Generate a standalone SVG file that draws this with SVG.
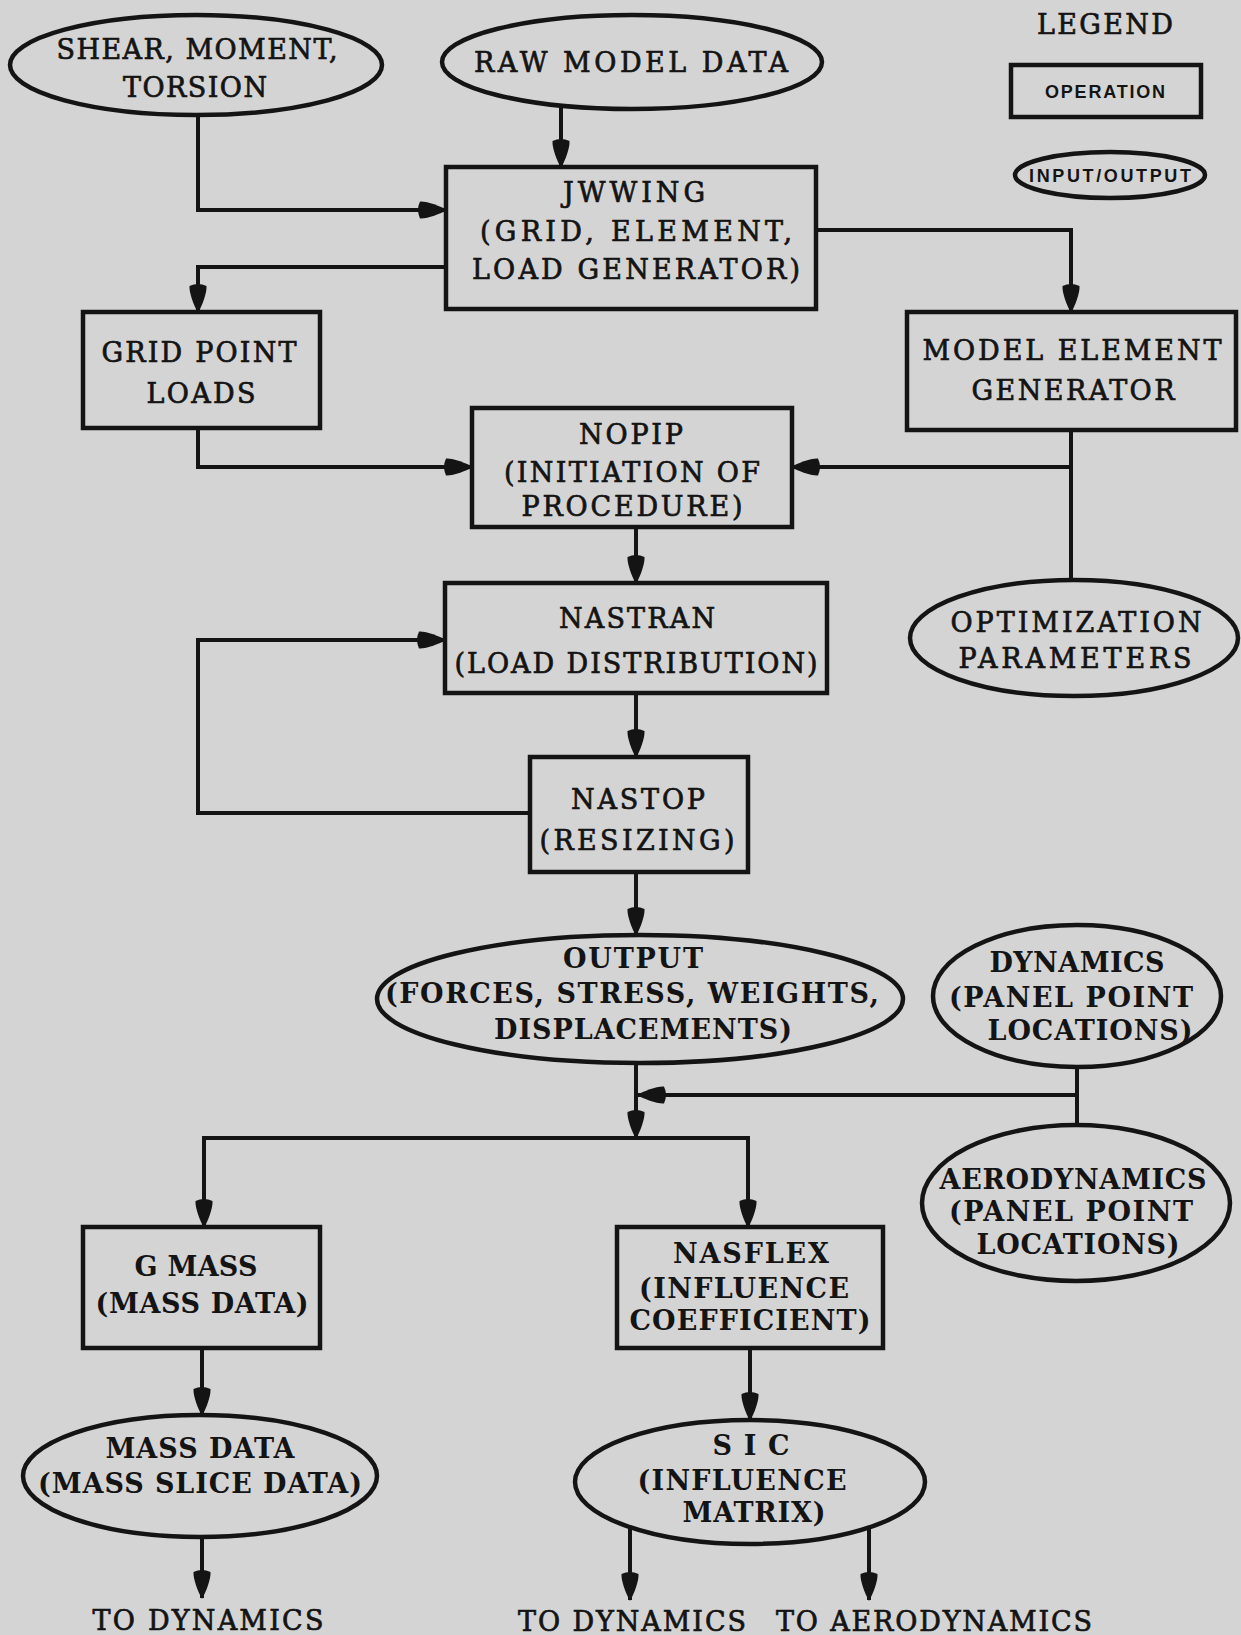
<svg xmlns="http://www.w3.org/2000/svg" width="1241" height="1635" viewBox="0 0 1241 1635">
<defs>
<style>
.bg{fill:#d4d4d4}
.box{fill:none;stroke:#141414;stroke-width:4.5}
.ell{fill:none;stroke:#141414;stroke-width:4.5}
.ln{fill:none;stroke:#141414;stroke-width:4}
.arr{marker-end:url(#ah)}
text{fill:#141414;text-anchor:middle}
.t{font-family:"DejaVu Serif","Liberation Serif",serif;font-size:27px;stroke:#141414;stroke-width:0.7}
.b{font-family:"DejaVu Serif","Liberation Serif",serif;font-size:27px;font-weight:bold}
.s{font-family:"Liberation Sans",Arial,sans-serif;font-size:18px;font-weight:bold}
</style>
<marker id="ah" markerUnits="userSpaceOnUse" markerWidth="34" markerHeight="22" viewBox="-31 -11 34 22" refX="0" refY="0" orient="auto" overflow="visible">
<path d="M1,0 C-6,-4 -19,-9 -26,-8.5 Q-30,0 -26,8.5 C-19,9 -6,4 1,0 Z" fill="#141414"/>
</marker>
</defs>
<rect class="bg" x="0" y="0" width="1241" height="1635"/>

<g id="legend">
<text class="t" x="1105" y="34" textLength="136" lengthAdjust="spacing">LEGEND</text>
<rect class="box" x="1011" y="65" width="190" height="52"/>
<text class="s" x="1105" y="98" textLength="120" lengthAdjust="spacing">OPERATION</text>
<ellipse class="ell" cx="1110" cy="175" rx="95" ry="23"/>
<text class="s" x="1110" y="182" textLength="162" lengthAdjust="spacing">INPUT/OUTPUT</text>
</g>

<g id="connectors">
<path class="ln arr" d="M198,115 V210 H446"/>
<path class="ln arr" d="M561,106 V167"/>
<path class="ln arr" d="M446,267 H198 V312"/>
<path class="ln arr" d="M816,230 H1071 V312"/>
<path class="ln arr" d="M198,428 V467 H472"/>
<path class="ln" d="M1071,430 V580"/>
<path class="ln arr" d="M1071,467 H792"/>
<path class="ln arr" d="M636,527 V583"/>
<path class="ln arr" d="M636,693 V757"/>
<path class="ln arr" d="M530,813 H198 V640 H445"/>
<path class="ln arr" d="M636,872 V935"/>
<path class="ln arr" d="M636,1063 V1138"/>
<path class="ln" d="M1077,1067 V1125"/>
<path class="ln arr" d="M1077,1095 H638"/>
<path class="ln arr" d="M636,1138 H204 V1227"/>
<path class="ln arr" d="M636,1138 H748 V1227"/>
<path class="ln arr" d="M202,1348 V1415"/>
<path class="ln arr" d="M750,1348 V1420"/>
<path class="ln arr" d="M202,1537 V1598"/>
<path class="ln arr" d="M630,1527 V1600"/>
<path class="ln arr" d="M869,1527 V1600"/>
</g>

<g id="shear">
<ellipse class="ell" cx="196" cy="65" rx="186" ry="50"/>
<text class="t" x="197" y="59" textLength="281" lengthAdjust="spacing">SHEAR, MOMENT,</text>
<text class="t" x="195" y="97" textLength="144" lengthAdjust="spacing">TORSION</text>
</g>

<g id="raw">
<ellipse class="ell" cx="632" cy="62" rx="190" ry="47"/>
<text class="t" x="631" y="72" textLength="314" lengthAdjust="spacing">RAW MODEL DATA</text>
</g>

<g id="jwwing">
<rect class="box" x="446" y="167" width="370" height="142"/>
<text class="t" x="634" y="202" textLength="142" lengthAdjust="spacing">JWWING</text>
<text class="t" x="636" y="241" textLength="312" lengthAdjust="spacing">(GRID, ELEMENT,</text>
<text class="t" x="636" y="279" textLength="328" lengthAdjust="spacing">LOAD GENERATOR)</text>
</g>

<g id="gridpoint">
<rect class="box" x="83" y="312" width="237" height="116"/>
<text class="t" x="199" y="362" textLength="195" lengthAdjust="spacing">GRID POINT</text>
<text class="t" x="201" y="403" textLength="109" lengthAdjust="spacing">LOADS</text>
</g>

<g id="modelelement">
<rect class="box" x="907" y="312" width="329" height="118"/>
<text class="t" x="1072" y="360" textLength="299" lengthAdjust="spacing">MODEL ELEMENT</text>
<text class="t" x="1073" y="400" textLength="203" lengthAdjust="spacing">GENERATOR</text>
</g>

<g id="nopip">
<rect class="box" x="472" y="408" width="320" height="119"/>
<text class="t" x="631" y="444" textLength="104" lengthAdjust="spacing">NOPIP</text>
<text class="t" x="632" y="482" textLength="256" lengthAdjust="spacing">(INITIATION OF</text>
<text class="t" x="632" y="516" textLength="221" lengthAdjust="spacing">PROCEDURE)</text>
</g>

<g id="nastran">
<rect class="box" x="445" y="583" width="382" height="110"/>
<text class="t" x="637" y="628" textLength="156" lengthAdjust="spacing">NASTRAN</text>
<text class="t" x="636" y="673" textLength="363" lengthAdjust="spacing">(LOAD DISTRIBUTION)</text>
</g>

<g id="optimization">
<ellipse class="ell" cx="1074" cy="638" rx="164" ry="58"/>
<text class="t" x="1076" y="632" textLength="251" lengthAdjust="spacing">OPTIMIZATION</text>
<text class="t" x="1075" y="668" textLength="233" lengthAdjust="spacing">PARAMETERS</text>
</g>

<g id="nastop">
<rect class="box" x="530" y="757" width="218" height="115"/>
<text class="t" x="638" y="809" textLength="134" lengthAdjust="spacing">NASTOP</text>
<text class="t" x="637" y="850" textLength="195" lengthAdjust="spacing">(RESIZING)</text>
</g>

<g id="output">
<ellipse class="ell" cx="640" cy="999" rx="263" ry="64"/>
<text class="b" x="633" y="968" textLength="140" lengthAdjust="spacing">OUTPUT</text>
<text class="b" x="632" y="1003" textLength="494" lengthAdjust="spacing">(FORCES, STRESS, WEIGHTS,</text>
<text class="b" x="643" y="1039" textLength="298" lengthAdjust="spacing">DISPLACEMENTS)</text>
</g>

<g id="dynamics">
<ellipse class="ell" cx="1077" cy="996" rx="144" ry="71"/>
<text class="b" x="1077" y="972" textLength="175" lengthAdjust="spacing">DYNAMICS</text>
<text class="b" x="1071" y="1007" textLength="244" lengthAdjust="spacing">(PANEL POINT</text>
<text class="b" x="1090" y="1040" textLength="205" lengthAdjust="spacing">LOCATIONS)</text>
</g>

<g id="aerodynamics">
<ellipse class="ell" cx="1076" cy="1203" rx="154" ry="78"/>
<text class="b" x="1073" y="1189" textLength="267" lengthAdjust="spacing">AERODYNAMICS</text>
<text class="b" x="1071" y="1221" textLength="244" lengthAdjust="spacing">(PANEL POINT</text>
<text class="b" x="1078" y="1254" textLength="203" lengthAdjust="spacing">LOCATIONS)</text>
</g>

<g id="gmass">
<rect class="box" x="83" y="1227" width="237" height="121"/>
<text class="b" x="196" y="1276" textLength="123" lengthAdjust="spacing">G MASS</text>
<text class="b" x="202" y="1313" textLength="213" lengthAdjust="spacing">(MASS DATA)</text>
</g>

<g id="nasflex">
<rect class="box" x="617" y="1227" width="266" height="121"/>
<text class="b" x="751" y="1263" textLength="156" lengthAdjust="spacing">NASFLEX</text>
<text class="b" x="744" y="1298" textLength="210" lengthAdjust="spacing">(INFLUENCE</text>
<text class="b" x="750" y="1330" textLength="241" lengthAdjust="spacing">COEFFICIENT)</text>
</g>

<g id="massdata">
<ellipse class="ell" cx="200" cy="1476" rx="177" ry="61"/>
<text class="b" x="200" y="1458" textLength="189" lengthAdjust="spacing">MASS DATA</text>
<text class="b" x="200" y="1493" textLength="324" lengthAdjust="spacing">(MASS SLICE DATA)</text>
</g>

<g id="sic">
<ellipse class="ell" cx="750" cy="1482" rx="175" ry="62"/>
<text class="b" x="751" y="1455" textLength="77" lengthAdjust="spacing">S I C</text>
<text class="b" x="742" y="1490" textLength="209" lengthAdjust="spacing">(INFLUENCE</text>
<text class="b" x="754" y="1522" textLength="143" lengthAdjust="spacing">MATRIX)</text>
</g>

<g id="labels">
<text class="t" x="208" y="1630" textLength="231" lengthAdjust="spacing">TO DYNAMICS</text>
<text class="t" x="632" y="1631" textLength="228" lengthAdjust="spacing">TO DYNAMICS</text>
<text class="t" x="934" y="1631" textLength="316" lengthAdjust="spacing">TO AERODYNAMICS</text>
</g>
</svg>
